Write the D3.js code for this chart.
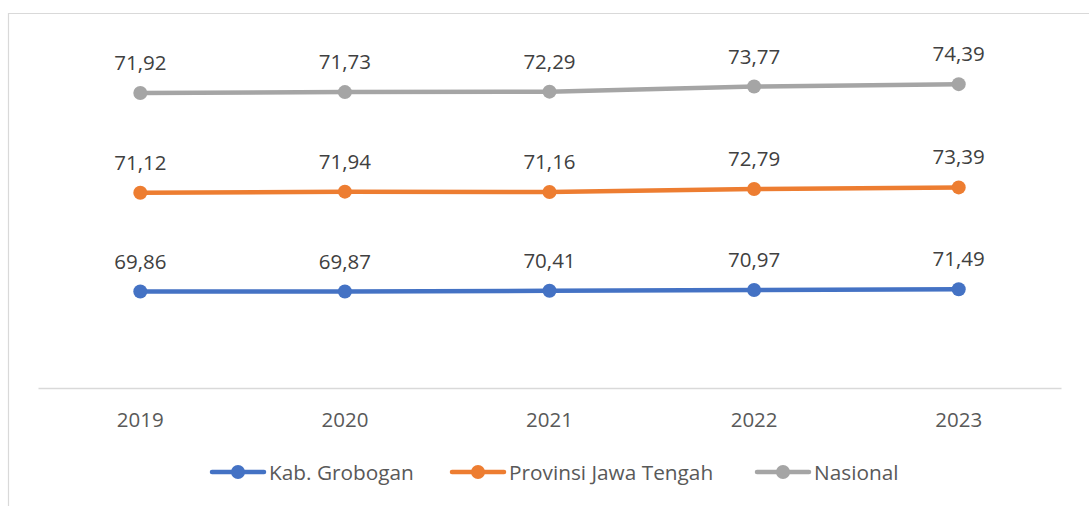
<!DOCTYPE html>
<html><head><meta charset="utf-8">
<script src="https://cdn.jsdelivr.net/npm/d3@7"></script>
<style>html,body{margin:0;padding:0;background:#fff;}svg{display:block;}</style>
</head><body>
<svg id="chart" width="1089" height="506"></svg>
<script>
const years = ["2019","2020","2021","2022","2023"];
const seriesNames = ["Kab. Grobogan","Provinsi Jawa Tengah","Nasional"];
const grobogan = [69.86, 69.87, 70.41, 70.97, 71.49];
const jateng = [71.12, 71.94, 71.16, 72.79, 73.39];
const nasional = [71.92, 71.73, 72.29, 73.77, 74.39];
const colors = ["#4472c4","#ed7d31","#a5a5a5"];
const yDomain = [0, 250];

const svg = d3.select("#chart");
const font = "'Open Sans', sans-serif";

// chart frame (cropped)
svg.append("path").attr("d","M8.5,506 L8.5,13.5 L1089,13.5").attr("fill","none").attr("stroke","#d9d9d9").attr("stroke-width",1.2);

const x = d3.scaleBand().domain(years).range([38,1061]);
const y = d3.scaleLinear().domain(yDomain).range([388.5, 41.5]);
const cx = d => x(d) + x.bandwidth()/2;

// stacked line chart
const raw = [grobogan, jateng, nasional];
const stacked = [];
raw.forEach((arr,i) => {
  stacked.push(arr.map((v,j) => v + (i>0 ? stacked[i-1][j] : 0)));
});

// axis
const xAxis = d3.axisBottom(x).tickSize(0).tickPadding(0);
const gAx = svg.append("g").attr("transform","translate(0,388)").call(xAxis);
gAx.select(".domain").attr("stroke","#d9d9d9").attr("stroke-width",1.5);
gAx.selectAll("text").attr("font-family",font).attr("font-size",20.5).attr("fill","#595959").attr("dy",null).attr("y",39);

const line = d3.line().x((d,j)=>cx(years[j])).y(d=>y(d));
stacked.forEach((s,i) => {
  svg.append("path").datum(s).attr("d",line).attr("fill","none").attr("stroke",colors[i]).attr("stroke-width",4.5).attr("stroke-linecap","round");
  svg.selectAll(null).data(s).enter().append("circle")
    .attr("cx",(d,j)=>cx(years[j])).attr("cy",d=>y(d)).attr("r",7).attr("fill",colors[i]);
  svg.selectAll(null).data(raw[i]).enter().append("text")
    .attr("x",(d,j)=>cx(years[j])).attr("y",(d,j)=>y(s[j]) - 23)
    .attr("text-anchor","middle").attr("font-family",font).attr("font-size",20.5).attr("fill","#404040")
    .text(d => d.toFixed(2).replace(".",","));
});

// legend
const legX = [210, 450, 755];
seriesNames.forEach((n,i) => {
  const g = svg.append("g").attr("transform",`translate(${legX[i]},472)`);
  g.append("line").attr("x1",2).attr("x2",54).attr("y1",0).attr("y2",0).attr("stroke",colors[i]).attr("stroke-width",4.5).attr("stroke-linecap","round");
  g.append("circle").attr("cx",28).attr("cy",0).attr("r",7).attr("fill",colors[i]);
  g.append("text").attr("x",59).attr("y",7.5).attr("font-family",font).attr("font-size",20.8).attr("fill","#595959").text(n);
});
</script>
</body></html>
